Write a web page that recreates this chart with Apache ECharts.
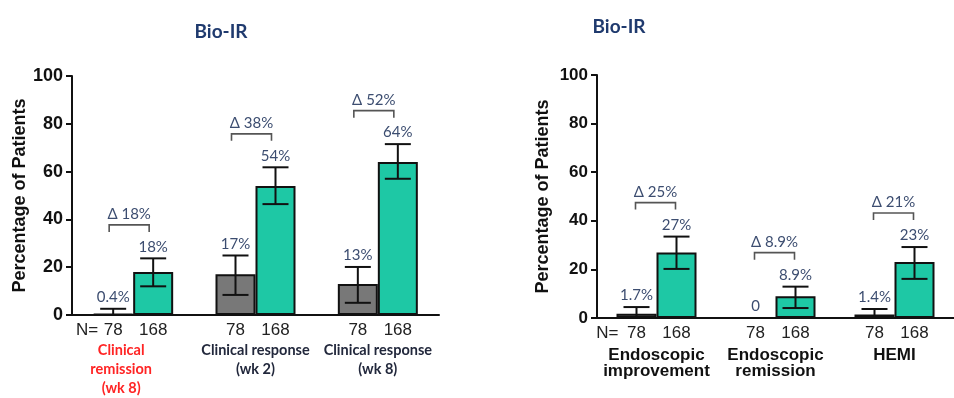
<!DOCTYPE html>
<html>
<head>
<meta charset="utf-8">
<script src="https://cdn.jsdelivr.net/npm/echarts@6/dist/echarts.min.js"></script>
<style>
  html, body { margin: 0; padding: 0; background: #fff; }
  #chart { width: 954px; height: 398px; }
</style>
</head>
<body>
<div id="chart"></div>
<script>
// Bio-IR: placebo (grey) vs treatment (green), percentage of patients
const groupN = [78, 168];

const leftCategories = ['Clinical\nremission\n(wk 8)', 'Clinical response\n(wk 2)', 'Clinical response\n(wk 8)'];
const leftGrey = [0.4, 17, 13];
const leftGreen = [18, 54, 64];
const leftGreyErr = [[0, 2.6], [8.4, 24.9], [5.1, 20.1]];
const leftGreenErr = [[12, 23.7], [46.4, 61.8], [57, 71.5]];
const leftGreyLabels = ['0.4%', '17%', '13%'];
const leftGreenLabels = ['18%', '54%', '64%'];
const leftDeltas = ['Δ 18%', 'Δ 38%', 'Δ 52%'];

const rightCategories = ['Endoscopic\nimprovement', 'Endoscopic\nremission', 'HEMI'];
const rightGrey = [1.7, 0, 1.4];
const rightGreen = [27, 8.9, 23];
const rightGreyErr = [[0, 4.5], null, [0, 3.7]];
const rightGreenErr = [[20.2, 33.5], [4.1, 12.9], [16.1, 29.2]];
const rightGreyLabels = ['1.7%', '0', '1.4%'];
const rightGreenLabels = ['27%', '8.9%', '23%'];
const rightDeltas = ['Δ 25%', 'Δ 8.9%', 'Δ 21%'];

const yTicks = [0, 20, 40, 60, 80, 100];

const GREEN = '#1ec8a5';
const GREY = '#787878';
const INK = '#111';
const LABEL_INK = '#3c4d70';
const HALF_BAR = 20;
const LABEL_FONT = '15px Lato, "Noto Sans", sans-serif';

const chart = echarts.init(document.getElementById('chart'), null, { renderer: 'canvas' });

// error bars with their value labels, one side of each category pair
function errorSeries(axis, side, vals, errs, labels) {
  return {
    type: 'custom',
    xAxisIndex: axis, yAxisIndex: axis,
    z: 5,
    data: vals.map((v, i) => [i, v, errs[i] ? errs[i][0] : v, errs[i] ? errs[i][1] : v]),
    renderItem: function (params, api) {
      const i = api.value(0);
      const base = api.coord([i, 0]);
      const x = base[0] + side * HALF_BAR;
      const yLo = api.coord([i, api.value(2)])[1];
      const yHi = api.coord([i, api.value(3)])[1];
      const children = [];
      if (errs[i]) {
        const ls = { stroke: INK, lineWidth: 2 };
        children.push({ type: 'line', shape: { x1: x, y1: yLo, x2: x, y2: yHi }, style: ls });
        children.push({ type: 'line', shape: { x1: x - 13, y1: yHi, x2: x + 13, y2: yHi }, style: ls });
        children.push({ type: 'line', shape: { x1: x - 13, y1: yLo, x2: x + 13, y2: yLo }, style: ls });
      }
      children.push({
        type: 'text',
        style: {
          text: labels[i], x: x, y: yHi - 4,
          align: 'center', verticalAlign: 'bottom',
          font: LABEL_FONT, fill: LABEL_INK
        }
      });
      return { type: 'group', children: children };
    }
  };
}

// difference brackets above each pair
function bracketSeries(axis, greyErrs, greenErrs, greyVals, greenVals, deltas, shift) {
  return {
    type: 'custom',
    xAxisIndex: axis, yAxisIndex: axis,
    z: 5,
    data: deltas.map((d, i) => {
      const a = greyErrs[i] ? greyErrs[i][1] : greyVals[i];
      const b = greenErrs[i] ? greenErrs[i][1] : greenVals[i];
      return [i, Math.max(a, b) + 14];
    }),
    renderItem: function (params, api) {
      const i = api.value(0);
      const p = api.coord([i, api.value(1)]);
      const xL = p[0] - HALF_BAR + shift, xR = p[0] + HALF_BAR + shift;
      const y = p[1];
      return {
        type: 'group',
        children: [
          { type: 'polyline', shape: { points: [[xL, y + 7], [xL, y], [xR, y], [xR, y + 7]] },
            style: { stroke: '#555', lineWidth: 1.6, fill: null } },
          { type: 'text', style: { text: deltas[i], x: (xL + xR) / 2, y: y - 3,
            align: 'center', verticalAlign: 'bottom',
            font: LABEL_FONT, fill: LABEL_INK } }
        ]
      };
    }
  };
}

// group sizes printed under each bar
function countSeries(axis, nGap) {
  return {
    type: 'custom',
    xAxisIndex: axis, yAxisIndex: axis,
    z: 5,
    data: [[0, 0], [1, 0], [2, 0]],
    renderItem: function (params, api) {
      const i = api.value(0);
      const p = api.coord([i, 0]);
      const y = p[1] + 15;
      const font = '17px "Liberation Sans", Arial, sans-serif';
      const children = [
        { type: 'text', style: { text: String(groupN[0]), x: p[0] - HALF_BAR, y: y, align: 'center', verticalAlign: 'middle', font: font, fill: '#222' } },
        { type: 'text', style: { text: String(groupN[1]), x: p[0] + HALF_BAR, y: y, align: 'center', verticalAlign: 'middle', font: font, fill: '#222' } }
      ];
      if (i === 0) {
        children.push({ type: 'text', style: { text: 'N=', x: p[0] - HALF_BAR - nGap, y: y, align: 'right', verticalAlign: 'middle', font: font, fill: '#222' } });
      }
      return { type: 'group', children: children };
    }
  };
}

function yAxisCfg(idx, labelSize, gap) {
  return {
    type: 'value', gridIndex: idx,
    min: yTicks[0], max: yTicks[yTicks.length - 1], interval: 20,
    name: 'Percentage of Patients',
    nameLocation: 'middle', nameGap: gap,
    nameTextStyle: { fontFamily: '"Liberation Sans", Arial, sans-serif', fontWeight: 'bold', fontSize: 18, color: INK },
    axisLine: { show: true, lineStyle: { color: INK, width: 2 } },
    axisTick: { show: true, length: 6, lineStyle: { color: INK, width: 2 } },
    axisLabel: { margin: 9, fontFamily: '"Liberation Sans", Arial, sans-serif', fontWeight: 'bold', fontSize: labelSize, color: INK },
    splitLine: { show: false }
  };
}

function barSeries(axis, vals, color) {
  return {
    type: 'bar', xAxisIndex: axis, yAxisIndex: axis,
    data: vals, barWidth: 40, barGap: '0%',
    itemStyle: { color: color, borderColor: INK, borderWidth: 2 },
    emphasis: { disabled: true }
  };
}

const titleStyle = { fontFamily: 'Lato, "Noto Sans", sans-serif', fontWeight: 'bold', fontSize: 19, color: '#1f3a6e' };

const option = {
  animation: false,
  title: [
    { text: 'Bio-IR', left: 216, top: 17, textAlign: 'center', textStyle: titleStyle },
    { text: 'Bio-IR', left: 614, top: 12, textAlign: 'center', textStyle: titleStyle }
  ],
  grid: [
    { left: 72, top: 76, width: 367, height: 242 },
    { left: 597, top: 75, width: 371, height: 243 }
  ],
  xAxis: [
    {
      type: 'category', gridIndex: 0,
      data: leftCategories.map((c, i) => i === 0
        ? { value: c, textStyle: { color: '#ff2424', padding: [0, 24, 0, 0] } }
        : c),
      axisLine: { lineStyle: { color: INK, width: 2 } },
      axisTick: { show: false },
      axisLabel: { interval: 0, margin: 26, lineHeight: 19,
        fontFamily: 'Lato, "Noto Sans", sans-serif', fontWeight: 'bold', fontSize: 14.5, color: '#22283c' }
    },
    {
      type: 'category', gridIndex: 1,
      data: rightCategories,
      axisLine: { lineStyle: { color: INK, width: 2 } },
      axisTick: { show: false },
      axisLabel: { interval: 0, margin: 29, lineHeight: 16,
        fontFamily: '"Liberation Sans", Arial, sans-serif', fontWeight: 'bold', fontSize: 17, color: INK }
    }
  ],
  yAxis: [yAxisCfg(0, 18, 43), yAxisCfg(1, 17, 45)],
  series: [
    barSeries(0, leftGrey, GREY),
    barSeries(0, leftGreen, GREEN),
    errorSeries(0, -1, leftGrey, leftGreyErr, leftGreyLabels),
    errorSeries(0, 1, leftGreen, leftGreenErr, leftGreenLabels),
    bracketSeries(0, leftGreyErr, leftGreenErr, leftGrey, leftGreen, leftDeltas, -4),
    countSeries(0, 15),
    barSeries(1, rightGrey, GREY),
    barSeries(1, rightGreen, GREEN),
    errorSeries(1, -1, rightGrey, rightGreyErr, rightGreyLabels),
    errorSeries(1, 1, rightGreen, rightGreenErr, rightGreenLabels),
    bracketSeries(1, rightGreyErr, rightGreenErr, rightGrey, rightGreen, rightDeltas, -1),
    countSeries(1, 18)
  ]
};

chart.setOption(option);
</script>
</body>
</html>
